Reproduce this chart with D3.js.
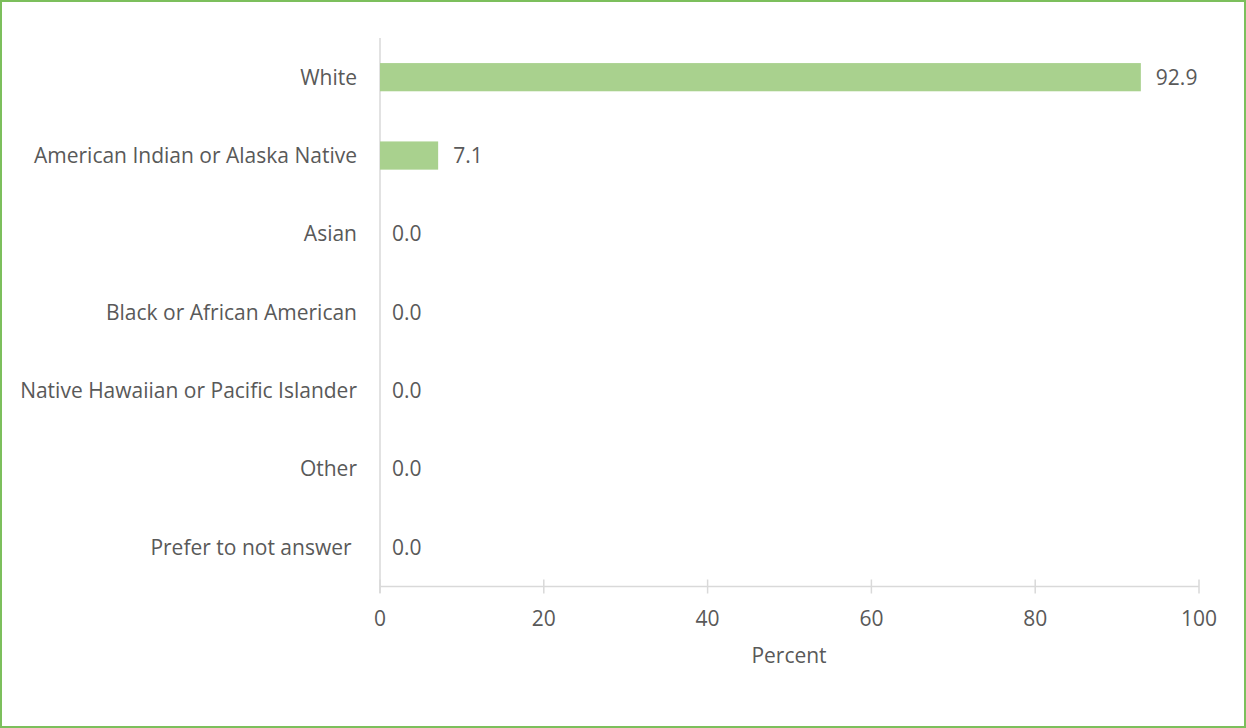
<!DOCTYPE html>
<html><head><meta charset="utf-8">
<script src="https://cdn.jsdelivr.net/npm/d3@7"></script>
<style>body{margin:0;background:#fff}svg{display:block}text{font-family:"Open Sans",sans-serif;fill:#595959;white-space:pre}</style>
</head><body><svg id="c" width="1246" height="728"></svg>
<script>
const categories = ["White","American Indian or Alaska Native","Asian","Black or African American","Native Hawaiian or Pacific Islander","Other","Prefer to not answer "];
const values = [92.9,7.1,0.0,0.0,0.0,0.0,0.0];
const xTicks = [0,20,40,60,80,100];
const xTitle = "Percent";
const FS = 21;

const svg = d3.select("#c");
svg.append("rect").attr("x",1).attr("y",1).attr("width",1244).attr("height",726)
  .attr("fill","#fff").attr("stroke","#7cbf5c").attr("stroke-width",2);

const x = d3.scaleLinear().domain([0,100]).range([380,1199]);
const y = d3.scaleBand().domain(categories).range([38,586.5]).paddingInner(0.64).paddingOuter(0.32);

svg.append("line").attr("x1",x(0)).attr("x2",x(0)).attr("y1",38).attr("y2",593).attr("stroke","#d9d9d9").attr("stroke-width",1.5);
const xa = svg.append("g").attr("transform","translate(0,586.5)");
xa.append("line").attr("x1",x(0)).attr("x2",x(100)).attr("stroke","#d9d9d9").attr("stroke-width",1.5);
xa.selectAll("line.t").data(xTicks).enter().append("line").attr("class","t")
  .attr("x1",d=>x(d)).attr("x2",d=>x(d)).attr("y1",-7).attr("y2",7).attr("stroke","#d9d9d9").attr("stroke-width",1.5);
xa.selectAll("text").data(xTicks).enter().append("text")
  .attr("x",d=>x(d)).attr("y",39).attr("text-anchor","middle").attr("font-size",FS).text(d=>d);
svg.append("text").attr("x",789).attr("y",663).attr("text-anchor","middle").attr("font-size",FS).text(xTitle);

svg.selectAll("rect.bar").data(values).enter().append("rect").attr("class","bar")
  .attr("x",x(0)).attr("y",(d,i)=>y(categories[i])).attr("height",y.bandwidth())
  .attr("width",d=>x(d)-x(0)).attr("fill","#a9d18e");
svg.selectAll("text.v").data(values).enter().append("text").attr("class","v")
  .attr("x",d=>x(d)+(d>0?15:12)).attr("y",(d,i)=>y(categories[i])+y.bandwidth()/2).attr("dy","0.35em")
  .attr("font-size",FS).text(d=>d.toFixed(1));
svg.selectAll("text.c").data(categories).enter().append("text").attr("class","c")
  .attr("x",357).attr("y",d=>y(d)+y.bandwidth()/2).attr("dy","0.35em").attr("text-anchor","end")
  .attr("font-size",FS).text(d=>d);
</script></body></html>
